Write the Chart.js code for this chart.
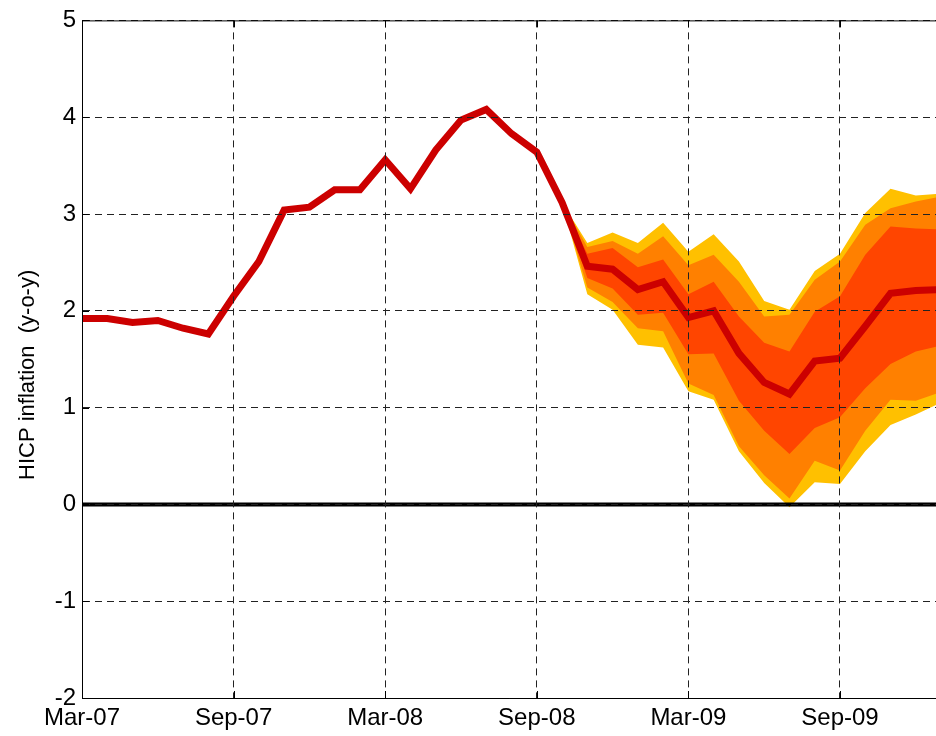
<!DOCTYPE html>
<html>
<head>
<meta charset="utf-8">
<script src="https://cdn.jsdelivr.net/npm/chart.js@4/dist/chart.umd.min.js"></script>
<style>
  html, body { margin: 0; padding: 0; background: #fff; }
  canvas { display: block; }
</style>
</head>
<body>
<canvas id="fanChart" width="936" height="736"></canvas>
<script>
// Monthly categories, Mar-07 .. Jan-10
const months = [
    'Mar-07', 'Apr-07', 'May-07', 'Jun-07', 'Jul-07', 'Aug-07', 'Sep-07', 'Oct-07', 'Nov-07', 'Dec-07',
    'Jan-08', 'Feb-08', 'Mar-08', 'Apr-08', 'May-08', 'Jun-08', 'Jul-08', 'Aug-08', 'Sep-08', 'Oct-08',
    'Nov-08', 'Dec-08', 'Jan-09', 'Feb-09', 'Mar-09', 'Apr-09', 'May-09', 'Jun-09', 'Jul-09', 'Aug-09',
    'Sep-09', 'Oct-09', 'Nov-09', 'Dec-09', 'Jan-10'
];

// HICP inflation (y-o-y), outturn + central projection
const inflation = [
    1.92, 1.92, 1.88, 1.90, 1.82, 1.76, 2.15, 2.51, 3.04, 3.07,
    3.25, 3.25, 3.56, 3.26, 3.66, 3.97, 4.08, 3.83, 3.64, 3.12,
    2.46, 2.43, 2.22, 2.30, 1.93, 2.00, 1.56, 1.26, 1.14, 1.48,
    1.51, 1.84, 2.18, 2.21, 2.22
];

// fan bands start at Oct-08
const fanStart = 19;
const yellowHi = [3.12, 2.70, 2.81, 2.70, 2.91, 2.61, 2.79, 2.51, 2.10, 2.01, 2.41, 2.59, 3.01, 3.26, 3.19, 3.21];
const orangeHi = [3.12, 2.66, 2.72, 2.59, 2.77, 2.47, 2.58, 2.30, 1.94, 1.96, 2.32, 2.51, 2.89, 3.06, 3.13, 3.18];
const redHi    = [3.12, 2.59, 2.65, 2.45, 2.53, 2.17, 2.30, 1.94, 1.67, 1.58, 1.99, 2.15, 2.58, 2.87, 2.85, 2.84];
const redLo    = [3.12, 2.34, 2.23, 1.96, 1.98, 1.55, 1.56, 1.07, 0.76, 0.52, 0.79, 0.90, 1.20, 1.45, 1.58, 1.64];
const orangeLo = [3.12, 2.24, 2.09, 1.82, 1.79, 1.25, 1.13, 0.60, 0.30, 0.06, 0.45, 0.35, 0.76, 1.08, 1.07, 1.16];
const yellowLo = [3.12, 2.17, 2.01, 1.65, 1.62, 1.17, 1.08, 0.55, 0.22, -0.03, 0.23, 0.21, 0.55, 0.82, 0.93, 1.05];

const tickStep = 6;          // one label every six months
const yTicks = [-2, -1, 0, 1, 2, 3, 4, 5];
const yTitle = 'HICP inflation  (y-o-y)';

const FONT = 'Liberation Sans, Arial, Helvetica, sans-serif';

const toPoints = (arr, offset) => arr.map((v, i) => ({ x: i + offset, y: v }));

function band(lo, hi, color, order) {
    return [
        { data: toPoints(lo, fanStart), borderColor: 'rgba(0,0,0,0)', borderWidth: 1, pointRadius: 0, fill: false, order: order },
        { data: toPoints(hi, fanStart), borderColor: 'rgba(0,0,0,0)', borderWidth: 1, pointRadius: 0, fill: '-1', backgroundColor: color, order: order }
    ];
}

// title, top border and MATLAB-style inward ticks
const frameExtras = {
    id: 'frameExtras',
    afterDraw(chart) {
        const { ctx, chartArea: a, scales } = chart;
        ctx.save();
        ctx.strokeStyle = '#000';
        ctx.lineWidth = 1;
        ctx.beginPath();
        ctx.moveTo(a.left, a.top + 0.5);
        ctx.lineTo(a.right, a.top + 0.5);
        scales.x.ticks.forEach(t => {
            const px = Math.round(scales.x.getPixelForValue(t.value)) + 0.5;
            ctx.moveTo(px, a.bottom); ctx.lineTo(px, a.bottom - 7);
            ctx.moveTo(px, a.top); ctx.lineTo(px, a.top + 7);
        });
        scales.y.ticks.forEach(t => {
            const py = Math.round(scales.y.getPixelForValue(t.value)) + 0.5;
            ctx.moveTo(a.left, py); ctx.lineTo(a.left + 7, py);
        });
        ctx.stroke();

        ctx.fillStyle = '#000';
        ctx.font = '22px ' + FONT;
        ctx.translate(34, 480);
        ctx.rotate(-Math.PI / 2);
        ctx.textAlign = 'left';
        ctx.textBaseline = 'alphabetic';
        ctx.fillText(yTitle, 0, 0);
        ctx.restore();
    }
};

Chart.defaults.font.family = FONT;
Chart.defaults.font.size = 24;
Chart.defaults.color = '#000';

new Chart(document.getElementById('fanChart'), {
    type: 'line',
    data: {
        datasets: [
            ...band(yellowLo, yellowHi, 'rgb(255,192,0)', 4),
            ...band(orangeLo, orangeHi, 'rgb(255,128,0)', 3),
            ...band(redLo, redHi, 'rgb(255,69,0)', 2),
            {
                // zero reference line
                data: [{ x: 0, y: 0 }, { x: months.length - 1, y: 0 }],
                borderColor: '#000', borderWidth: 4, pointRadius: 0, fill: false, order: 1
            },
            {
                data: toPoints(inflation, 0),
                borderColor: 'rgb(204,0,0)', borderWidth: 7, pointRadius: 0, fill: false,
                borderJoinStyle: 'miter', borderCapStyle: 'butt', order: 0
            }
        ]
    },
    options: {
        responsive: false,
        animation: false,
        devicePixelRatio: 1,
        layout: { padding: { top: 18, right: 0, bottom: 0, left: 0 } },
        elements: { line: { tension: 0 } },
        plugins: {
            legend: { display: false },
            tooltip: { enabled: false },
            filler: { propagate: false }
        },
        scales: {
            x: {
                type: 'linear',
                min: 0,
                max: 33.8,   // reference frame is cut just before Jan-10
                afterBuildTicks: s => {
                    s.ticks = months.map((m, i) => i).filter(i => i % tickStep === 0 && i <= s.max).map(v => ({ value: v }));
                },
                afterFit: s => { s.height = 38; },
                ticks: {
                    autoSkip: false, maxRotation: 0, padding: 6,
                    callback: v => months[v]
                },
                grid: { color: '#222', lineWidth: 1, drawTicks: false, z: 1 },
                border: { color: '#000', width: 1, dash: [7, 5], z: 2 }
            },
            y: {
                min: yTicks[0],
                max: yTicks[yTicks.length - 1],
                afterBuildTicks: s => { s.ticks = yTicks.map(v => ({ value: v })); },
                afterFit: s => { s.width = 82; },
                ticks: { padding: 6 },
                grid: { color: '#222', lineWidth: 1, drawTicks: false, z: 1 },
                border: { color: '#000', width: 1, dash: [7, 5], z: 2 }
            }
        }
    },
    plugins: [frameExtras]
});
</script>
</body>
</html>
